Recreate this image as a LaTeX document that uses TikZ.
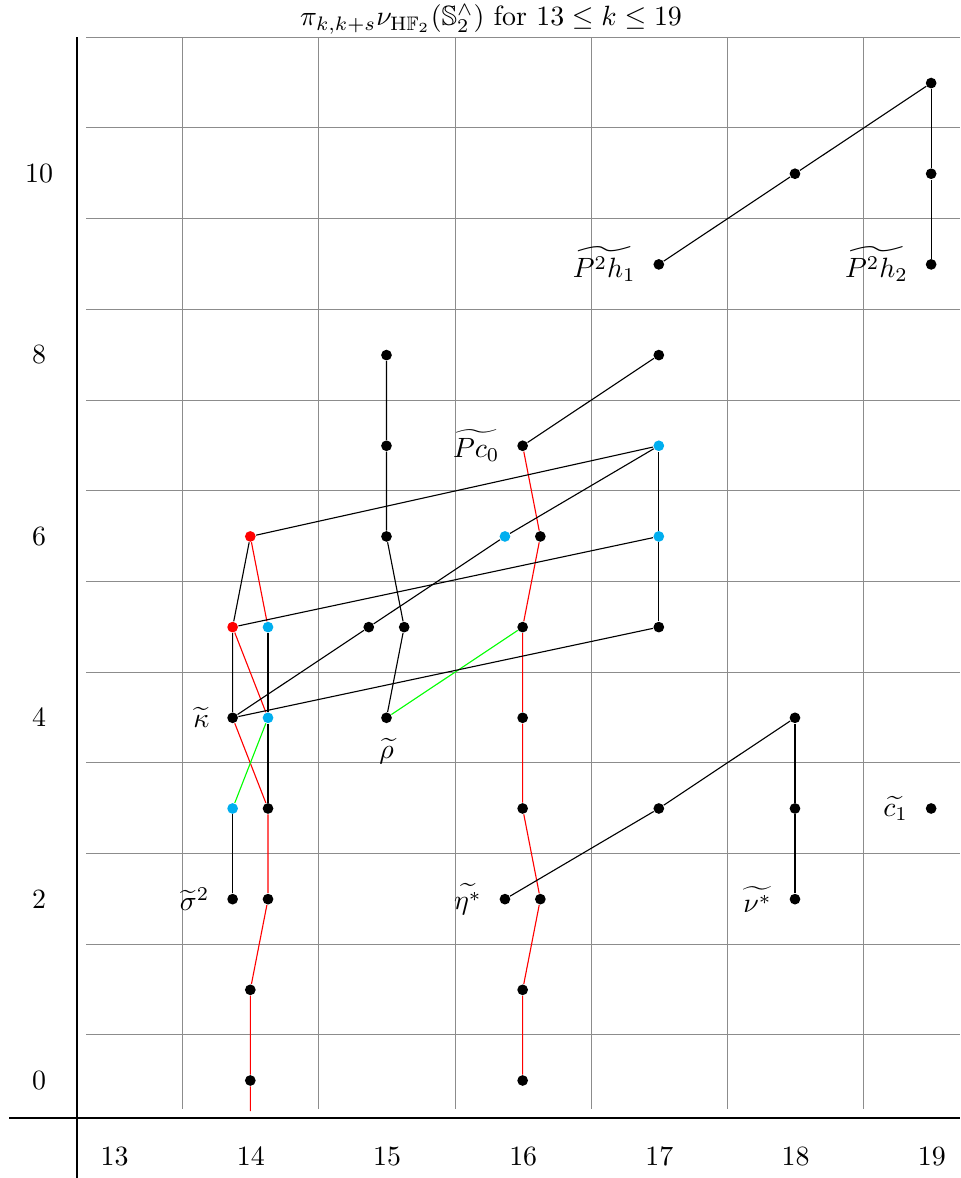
\documentclass[tikz,border=0pt]{standalone}
\usepackage{amsmath,amssymb}
\pgfdeclarelayer{bg}
\pgfsetlayers{bg,main}
\definecolor{cdot}{RGB}{0,174,239}
\definecolor{gline}{RGB}{0,255,0}
\definecolor{rline}{RGB}{255,0,0}
\tikzset{
 bdot/.style={circle,fill=black,inner sep=0pt,minimum size=0.135cm},
 cdotst/.style={bdot,fill=cdot},
 rdot/.style={bdot,fill=rline},
 gridline/.style={black!45,line width=0.0126cm},
 axisline/.style={black,line width=0.5pt},
 lab/.style={inner sep=0pt},
 ll/.style={label={[lab,label distance=6pt]left:#1}},
 rl/.style={rline,line width=0.4pt},
 gl/.style={gline,line width=0.4pt},
 bl/.style={black,line width=0.4pt},
}
\begin{document}
\begin{tikzpicture}[x=0.0126cm,y=-0.0126cm]
\useasboundingbox (0,0) rectangle (960,1178);
% title
\node[inner sep=0pt] (title) at (491,19.5) {$\pi_{k,k+s}\nu_{\mathrm{H}\mathbb{F}_2}(\mathbb{S}_2^{\wedge})$ for $13 \leq k \leq 19$};
\begin{pgfonlayer}{bg}
% grid
\foreach \yy in {0,...,11} {
  \pgfmathsetmacro{\gy}{floor(1080.3-90.7*(\yy+0.5))+0.5}
  \draw[gridline] (86,\gy) -- (960,\gy);
}
\foreach \xx in {0,...,5} {
  \pgfmathsetmacro{\gx}{floor(182.7+136.2*\xx)+0.5}
  \draw[gridline] (\gx,37.2) -- (\gx,1109);
}
% axes
\draw[axisline] (77,37.2) -- (77,1178);
\draw[axisline] (9,1118) -- (960,1118);
\end{pgfonlayer}
% axis labels
\foreach \k in {13,...,19} {
  \node (xl\k) at ({250.8+136.2*(\k-14)},1156) {$\k$};
}
\foreach \s in {0,2,...,10} {
  \node (yl\s) at (39,{1080.5-90.7*\s}) {$\s$};
}
\begin{scope}[shift={(-1656,1080.5)},x=1.71612cm,y=1.14282cm]
% k = 14
\node[bdot] (a0) at (14,0) {};
\coordinate (a0tail) at (14,-0.337);
\node[bdot] (a1) at (14,1) {};
\node[bdot,ll={$\widetilde{\sigma}^2$}] (a2l) at (13.87,2) {};
\node[bdot] (a2r) at (14.13,2) {};
\node[cdotst] (a3l) at (13.87,3) {};
\node[bdot] (a3r) at (14.13,3) {};
\node[bdot,ll={$\widetilde{\kappa}$}] (a4l) at (13.87,4) {};
\node[cdotst] (a4r) at (14.13,4) {};
\node[rdot] (a5l) at (13.87,5) {};
\node[cdotst] (a5r) at (14.13,5) {};
\node[rdot] (a6) at (14,6) {};
% k = 15
\node[bdot,label={[lab,label distance=5pt]below:$\widetilde{\rho}$}] (b4) at (15,4) {};
\node[bdot] (b5l) at (14.87,5) {};
\node[bdot] (b5r) at (15.13,5) {};
\node[bdot] (b6) at (15,6) {};
\node[bdot] (b7) at (15,7) {};
\node[bdot] (b8) at (15,8) {};
% k = 16
\node[bdot] (c0) at (16,0) {};
\node[bdot] (c1) at (16,1) {};
\node[bdot,ll={$\widetilde{\eta^*}$}] (c2l) at (15.87,2) {};
\node[bdot] (c2r) at (16.13,2) {};
\node[bdot] (c3) at (16,3) {};
\node[bdot] (c4) at (16,4) {};
\node[bdot] (c5) at (16,5) {};
\node[cdotst] (c6l) at (15.87,6) {};
\node[bdot] (c6r) at (16.13,6) {};
\node[bdot,ll={$\widetilde{Pc_0}$}] (c7) at (16,7) {};
% k = 17
\node[bdot] (d3) at (17,3) {};
\node[bdot] (d5) at (17,5) {};
\node[cdotst] (d6) at (17,6) {};
\node[cdotst] (d7) at (17,7) {};
\node[bdot] (d8) at (17,8) {};
\node[bdot,ll={$\widetilde{P^2h_1}$}] (d9) at (17,9) {};
% k = 18
\node[bdot,ll={$\widetilde{\nu^*}$}] (e2) at (18,2) {};
\node[bdot] (e3) at (18,3) {};
\node[bdot] (e4) at (18,4) {};
\node[bdot] (e10) at (18,10) {};
% k = 19
\node[bdot,ll={$\widetilde{c_1}$}] (f3) at (19,3) {};
\node[bdot,ll={$\widetilde{P^2h_2}$}] (f9) at (19,9) {};
\node[bdot] (f10) at (19,10) {};
\node[bdot] (f11) at (19,11) {};
\begin{pgfonlayer}{bg}
% red
\draw[rl] (a0tail) -- (a0) -- (a1) -- (a2r) -- (a3r);
\draw[rl] (a4l) -- (a3r);
\draw[rl] (a5l) -- (a4r);
\draw[rl] (a6) -- (a5r);
\draw[rl] (c0) -- (c1) -- (c2r) -- (c3) -- (c4) -- (c5) -- (c6r) -- (c7);
% green
\draw[gl] (a3l) -- (a4r);
\draw[gl] (b4) -- (c5);
% black
\draw[bl] (a2l) -- (a3l);
\draw[bl] (a4l) -- (a5l) -- (a6);
\draw[bl] (a5r) -- (a4r) -- (a3r);
\draw[bl] (a6) -- (d7);
\draw[bl] (a5l) -- (d6);
\draw[bl] (a4l) -- (b5l) -- (c6l) -- (d7);
\draw[bl] (a4l) -- (d5);
\draw[bl] (b4) -- (b5r) -- (b6) -- (b7) -- (b8);
\draw[bl] (c7) -- (d8);
\draw[bl] (d5) -- (d6) -- (d7);
\draw[bl] (c2l) -- (d3) -- (e4);
\draw[bl] (e2) -- (e3) -- (e4);
\draw[bl] (d9) -- (e10) -- (f11);
\draw[bl] (f9) -- (f10) -- (f11);
\end{pgfonlayer}
\end{scope}
\end{tikzpicture}
\end{document}
